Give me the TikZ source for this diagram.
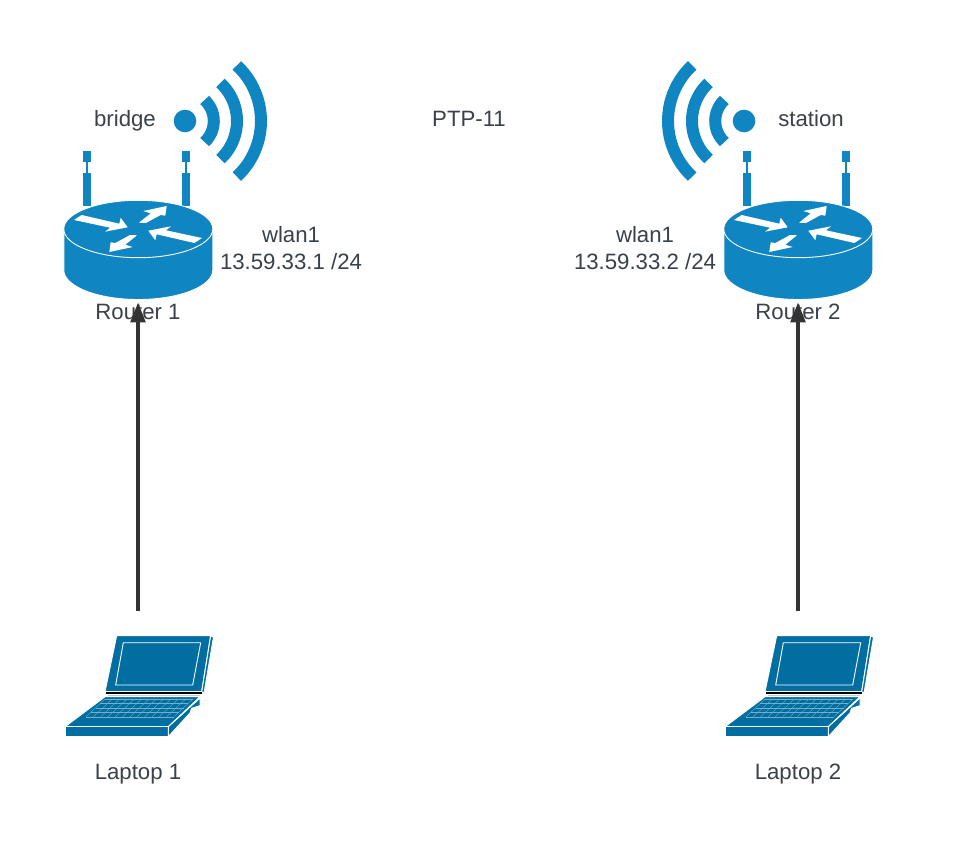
\documentclass[tikz,border=0pt]{standalone}
\usepackage{fontspec}
\setmainfont{Liberation Sans}
\usetikzlibrary{arrows.meta}
\definecolor{routerblue}{HTML}{0F85C1}
\definecolor{laptopblue}{HTML}{006EA0}
\definecolor{textgrey}{HTML}{3A414A}
\definecolor{linkgrey}{HTML}{333333}
\tikzset{
  lbl/.style={text=textgrey,inner sep=0pt,align=center,anchor=base,font=\fontsize{22.2}{27}\selectfont},
  anchorbox/.style={inner sep=0pt,minimum width=150pt,minimum height=100pt},
  routerpart/.style={fill=routerblue,draw=white,line width=0.9pt},
  laptoppart/.style={fill=laptopblue,draw=white,line width=1pt},
  signalarc/.style={draw=routerblue,line width=12pt},
  turn/.style={fill=white},
  link/.style={draw=linkgrey,line width=3.8pt,-{Triangle[length=20pt,width=14.5pt]}}
}
\begin{document}
\begin{tikzpicture}[x=1pt,y=-1pt,line width=0.6pt]
  \fill[white] (0,0) rectangle (966,859);
  \useasboundingbox (0,0) rectangle (966,859);
  \foreach \x/\n in {0/1,660/2}{
    \begin{scope}[shift={(\x,0)}]
      % antennas
      \foreach \a in {87,186}{
        \fill[routerblue] (\a-4,151) rectangle (\a+4,162);
        \draw[gray!35,line width=2.8pt] (\a,162) -- (\a,173);
        \draw[routerblue,line width=1.2pt] (\a,162) -- (\a,173);
        \fill[routerblue] (\a-4,173) rectangle (\a+4,206);}
      % router
      \draw[routerpart] (63.8,229) -- (63.8,270) arc[start angle=180,end angle=360,x radius=74.5pt,y radius=29.5pt] -- (212.8,229) -- cycle;
      \draw[routerpart] (138.3,229) ellipse[x radius=74.5pt,y radius=28.7pt];
      \foreach \r in {0,180}{
        \begin{scope}[shift={(138,229)},rotate=\r]
          \fill[turn] (-64,-9) -- (-56.3,-14) -- (-18.7,-5.3) -- (-17.3,-11.3) -- (-10.3,-1.7) -- (-33,2.7) -- (-28,-1.3) -- cycle;
          \fill[turn] (1,-6.3) -- (8,-6) -- (22.7,-14) -- (27.3,-13.3) -- (28.7,-23) -- (5.3,-18) -- (12.7,-15.7) -- cycle;
        \end{scope}}
      % laptop
      \draw[laptoppart] (116.7,635.5) -- (210.7,635.5) -- (201.7,691.7) -- (105,691.7) -- cycle;
      \draw[laptoppart] (210.7,635.5) -- (213.5,637.3) -- (204,693.3) -- (201.7,691.7) -- cycle;
      \draw[white,line width=0.9pt] (123.3,642.7) -- (200.7,642.7) -- (192.7,685) -- (115.7,685) -- cycle;
      \draw[black,line width=1.3pt] (106,693) -- (202,693);
      \draw[gray!40,line width=0.9pt] (108,695) -- (200,695);
      \draw[laptoppart] (105,696.7) -- (200,696.7) -- (168.3,726.7) -- (65,726.7) -- cycle;
      \draw[laptoppart] (65,726.7) rectangle (168.3,736.7);
      \draw[laptoppart] (168.3,726.7) -- (200,698) -- (200,705.7) -- (191.7,708.3) -- (190,713) -- (168.3,736.7) -- cycle;
      \foreach \t in {0,1,...,12}{
        \draw[white!45!laptopblue,line width=0.35pt] (105+\t*7.33,699) -- (86+\t*7.33,716.7);}
      \foreach \t in {0,1,...,4}{
        \draw[white!45!laptopblue,line width=0.35pt] (105-\t*4.75,699+\t*4.42) -- (193-\t*4.75,699+\t*4.42);}
    \end{scope}
    \node[anchorbox] (router\n) at (138+\x,250) {};
    \node[anchorbox,minimum height=102pt] (laptop\n) at (138+\x,686) {};
    \node[lbl] (routerlabel\n) at (138+\x,319) {Router \n};
    \node[lbl] (laptoplabel\n) at (138+\x,779) {Laptop \n};
    \draw[link,shorten <=24pt,shorten >=2pt] (laptop\n.north) -- (router\n.south);}
  % wireless marks
  \fill[routerblue] (185,121) circle[radius=11.3pt];
  \foreach \r in {28.8,52,76}{
    \draw[signalarc] (185,121) ++(-47:\r pt) arc[start angle=-47,end angle=47,radius=\r pt];}
  \fill[routerblue] (744,121) circle[radius=11.3pt];
  \foreach \r in {28.8,52,76}{
    \draw[signalarc] (744,121) ++(133:\r pt) arc[start angle=133,end angle=227,radius=\r pt];}
  \node[lbl] (bridge) at (125,126) {bridge};
  \node[lbl] (station) at (811,126) {station};
  \node[lbl] (ptp) at (469,126) {PTP-11};
  \node[lbl,anchor=center] (wlanleft) at (291,248.5) {wlan1\\13.59.33.1 /24};
  \node[lbl,anchor=center] (wlanright) at (645,248.5) {wlan1\\13.59.33.2 /24};
\end{tikzpicture}
\end{document}
